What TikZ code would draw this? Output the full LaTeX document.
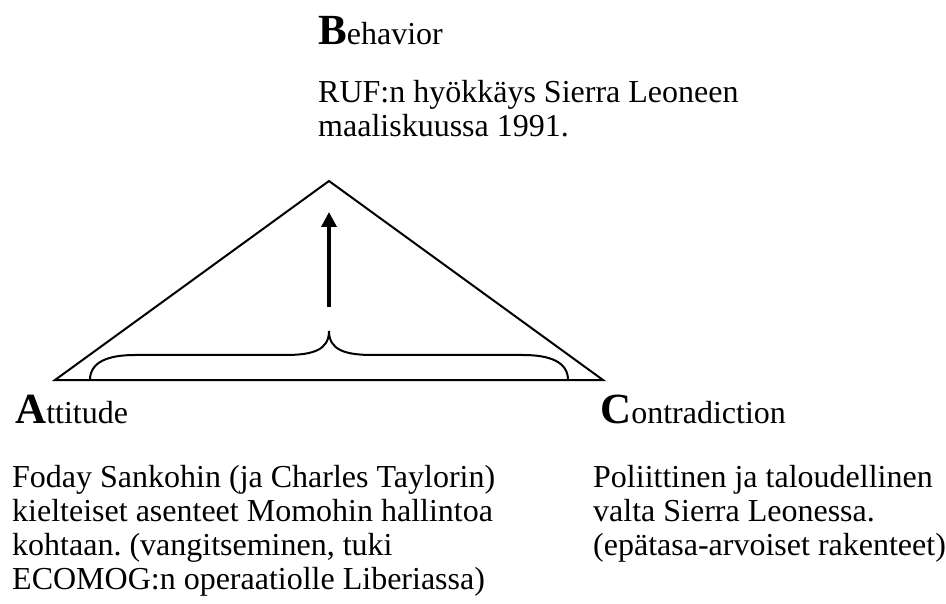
\documentclass[tikz,border=0pt]{standalone}
\usepackage{fontspec}
\setmainfont{Liberation Serif}
\usetikzlibrary{arrows.meta}
\frenchspacing

\newcommand{\bigini}[1]{{\fontsize{43}{43}\selectfont\bfseries #1}}

\begin{document}
\begin{tikzpicture}[x=1pt, y=-1pt,
  txt/.style={anchor=base west, inner sep=0pt, align=left, font=\fontsize{32}{34}\selectfont},
  side/.style={line width=2pt, line join=miter},
  upward/.style={line width=3.5pt, -{Triangle[width=15pt, length=15pt]}}]
  \useasboundingbox (0,0) rectangle (946,604);

  % triangle
  \coordinate (att) at (55,380);
  \coordinate (beh) at (329,181);
  \coordinate (con) at (603,380);
  \draw[side] (att) -- (beh) -- (con) -- cycle;

  % brace and arrow
  \coordinate (bl) at (90,380);
  \coordinate (br) at (568,380);
  \coordinate (btip) at (329,331);
  \draw[side] (bl) .. controls (90,362) and (108,355) .. (135,355) -- (285,355)
    .. controls (313,355) and (329,350) .. (btip)
    .. controls (329,350) and (345,355) .. (373,355) -- (523,355)
    .. controls (550,355) and (568,362) .. (br);
  \coordinate (from) at (329,307);
  \coordinate (to) at (329,212);
  \draw[upward] (from) -- (to);

  % labels (base = last line)
  \node[txt] (behavior) at (318,45) {\bigini{B}ehavior};
  \node[txt] (behaviortext) at (318,137) {RUF:n hyökkäys Sierra Leoneen\\maaliskuussa 1991.};
  \node[txt] (attitude) at (15,423) {\bigini{A}ttitude};
  \node[txt] (attitudetext) at (12,589) {Foday Sankohin (ja Charles Taylorin)\\kielteiset asenteet Momohin hallintoa\\kohtaan. (vangitseminen, tuki\\ECOMOG:n operaatiolle Liberiassa)};
  \node[txt] (contradiction) at (600,423) {\bigini{C}ontradiction};
  \node[txt] (contradictiontext) at (593,555) {Poliittinen ja taloudellinen\\valta Sierra Leonessa.\\(epätasa-arvoiset rakenteet)};
\end{tikzpicture}
\end{document}
